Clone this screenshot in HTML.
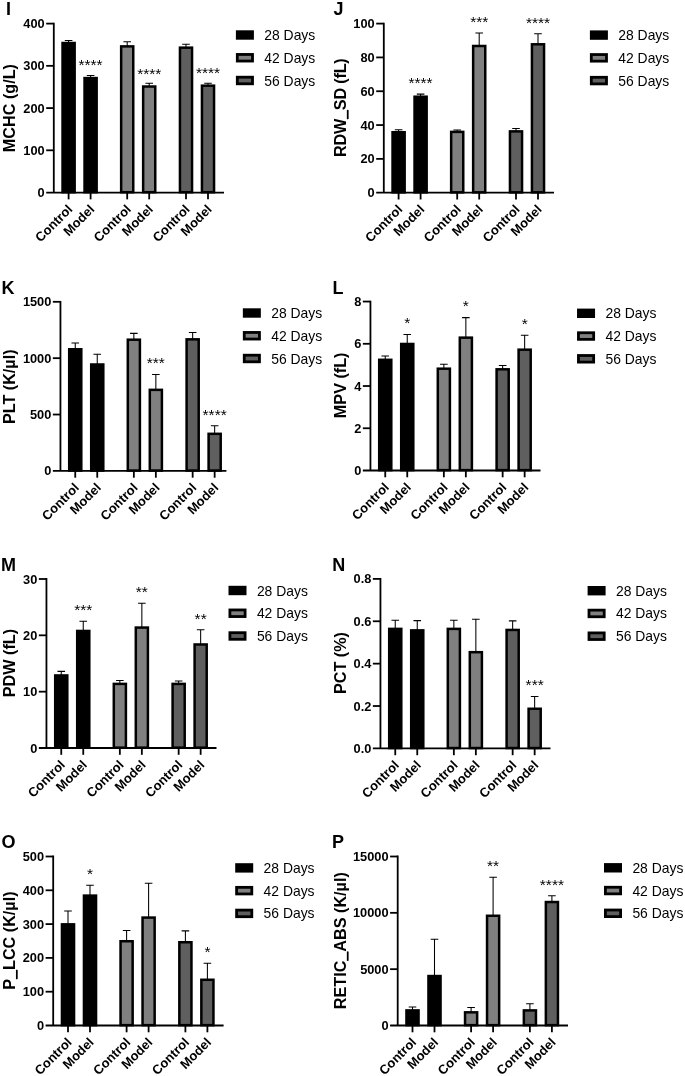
<!DOCTYPE html>
<html><head><meta charset="utf-8"><title>Figure</title>
<style>
html,body{margin:0;padding:0;background:#fff;}
svg{display:block;will-change:transform;}
text{font-family:"Liberation Sans",sans-serif;fill:#000;}
.pl{font-size:18px;font-weight:bold;}
.yt{font-size:16.2px;font-weight:bold;}
.tk{font-size:12.8px;font-weight:bold;}
.xl{font-size:13px;font-weight:bold;}
.lg{font-size:13.9px;}
.st{font-size:15.5px;}
.ax{stroke:#000;stroke-width:1.8;fill:none;}
.eb{stroke:#000;stroke-width:1.05;fill:none;}
</style></head>
<body>
<svg width="685" height="1076" viewBox="0 0 685 1076">
<rect width="685" height="1076" fill="#fff"/>
<g>
<text class="pl" x="5.9" y="15.1">I</text>
<g transform="translate(15.1,108.08) rotate(-90)"><text class="yt" text-anchor="middle">MCHC (g/L)</text>
</g>
<path class="eb" d="M68.6 42.76V40.5M64.8 40.5H72.4"/>
<rect x="62.55" y="43.01" width="12.1" height="149.19" fill="#000000" stroke="#000" stroke-width="2.5"/>
<path class="eb" d="M90.6 77.82V75.55M86.8 75.55H94.4"/>
<rect x="84.55" y="78.07" width="12.1" height="114.13" fill="#000000" stroke="#000" stroke-width="2.5"/>
<path class="eb" d="M127.2 46.14V41.76M123.4 41.76H131"/>
<rect x="121.15" y="46.39" width="12.1" height="145.81" fill="#808080" stroke="#000" stroke-width="2.5"/>
<path class="eb" d="M149.2 86.27V83.15M145.4 83.15H153"/>
<rect x="143.15" y="86.52" width="12.1" height="105.68" fill="#808080" stroke="#000" stroke-width="2.5"/>
<path class="eb" d="M186 47.41V44.3M182.2 44.3H189.8"/>
<rect x="179.95" y="47.66" width="12.1" height="144.54" fill="#5f5f5f" stroke="#000" stroke-width="2.5"/>
<path class="eb" d="M208 85.42V83.15M204.2 83.15H211.8"/>
<rect x="201.95" y="85.67" width="12.1" height="106.53" fill="#5f5f5f" stroke="#000" stroke-width="2.5"/>
<text class="st" x="90.6" y="70.06" text-anchor="middle">****</text>
<text class="st" x="149.2" y="78.76" text-anchor="middle">****</text>
<text class="st" x="208" y="77.58" text-anchor="middle">****</text>
<path class="ax" d="M53.8 22.7V193.45M46.2 192.55H224"/>
<text class="tk" x="44.7" y="197.1" text-anchor="end">0</text>
<path class="ax" d="M46.2 150.31H53.8"/>
<text class="tk" x="44.7" y="154.86" text-anchor="end">100</text>
<path class="ax" d="M46.2 108.08H53.8"/>
<text class="tk" x="44.7" y="112.62" text-anchor="end">200</text>
<path class="ax" d="M46.2 65.84H53.8"/>
<text class="tk" x="44.7" y="70.39" text-anchor="end">300</text>
<path class="ax" d="M46.2 23.6H53.8"/>
<text class="tk" x="44.7" y="28.15" text-anchor="end">400</text>
<path class="ax" d="M68.6 192.55V199.35"/>
<text class="xl" transform="translate(73.2,210.15) rotate(-45)" text-anchor="end">Control</text>
<path class="ax" d="M90.6 192.55V199.35"/>
<text class="xl" transform="translate(95.2,210.15) rotate(-45)" text-anchor="end">Model</text>
<path class="ax" d="M127.2 192.55V199.35"/>
<text class="xl" transform="translate(131.8,210.15) rotate(-45)" text-anchor="end">Control</text>
<path class="ax" d="M149.2 192.55V199.35"/>
<text class="xl" transform="translate(153.8,210.15) rotate(-45)" text-anchor="end">Model</text>
<path class="ax" d="M186 192.55V199.35"/>
<text class="xl" transform="translate(190.6,210.15) rotate(-45)" text-anchor="end">Control</text>
<path class="ax" d="M208 192.55V199.35"/>
<text class="xl" transform="translate(212.6,210.15) rotate(-45)" text-anchor="end">Model</text>
<rect x="237.3" y="31.7" width="15.2" height="6.6" fill="#000000" stroke="#000" stroke-width="2.8"/>
<text class="lg" x="264.3" y="40">28 Days</text>
<rect x="237.3" y="54.45" width="15.2" height="6.6" fill="#808080" stroke="#000" stroke-width="2.8"/>
<text class="lg" x="264.3" y="62.75">42 Days</text>
<rect x="237.3" y="77.2" width="15.2" height="6.6" fill="#5f5f5f" stroke="#000" stroke-width="2.8"/>
<text class="lg" x="264.3" y="85.5">56 Days</text>
</g>
<g>
<text class="pl" x="333.5" y="15">J</text>
<g transform="translate(346,107.75) rotate(-90)"><text class="yt" text-anchor="middle" style="letter-spacing:-0.2px">RDW_SD (fL)</text>
<rect x="-11.31" y="0.85" width="9" height="1.75" fill="#000"/>
</g>
<path class="eb" d="M398.6 131.98V129.79M394.8 129.79H402.4"/>
<rect x="392.55" y="132.23" width="12.1" height="60.12" fill="#000000" stroke="#000" stroke-width="2.5"/>
<path class="eb" d="M420.6 96.47V94.11M416.8 94.11H424.4"/>
<rect x="414.55" y="96.72" width="12.1" height="95.63" fill="#000000" stroke="#000" stroke-width="2.5"/>
<path class="eb" d="M457.2 131.64V130.05M453.4 130.05H461"/>
<rect x="451.15" y="131.89" width="12.1" height="60.46" fill="#808080" stroke="#000" stroke-width="2.5"/>
<path class="eb" d="M479.2 45.74V32.9M475.4 32.9H483"/>
<rect x="473.15" y="45.99" width="12.1" height="146.36" fill="#808080" stroke="#000" stroke-width="2.5"/>
<path class="eb" d="M516 131.13V128.44M512.2 128.44H519.8"/>
<rect x="509.95" y="131.38" width="12.1" height="60.97" fill="#5f5f5f" stroke="#000" stroke-width="2.5"/>
<path class="eb" d="M538 44.05V33.75M534.2 33.75H541.8"/>
<rect x="531.95" y="44.3" width="12.1" height="148.05" fill="#5f5f5f" stroke="#000" stroke-width="2.5"/>
<text class="st" x="420.6" y="88.2" text-anchor="middle">****</text>
<text class="st" x="479.2" y="26.98" text-anchor="middle">***</text>
<text class="st" x="538" y="28.33" text-anchor="middle">****</text>
<path class="ax" d="M383.8 22.7V193.6M376.2 192.7H554"/>
<text class="tk" x="374.7" y="197.25" text-anchor="end">0</text>
<path class="ax" d="M376.2 158.88H383.8"/>
<text class="tk" x="374.7" y="163.43" text-anchor="end">20</text>
<path class="ax" d="M376.2 125.06H383.8"/>
<text class="tk" x="374.7" y="129.61" text-anchor="end">40</text>
<path class="ax" d="M376.2 91.24H383.8"/>
<text class="tk" x="374.7" y="95.79" text-anchor="end">60</text>
<path class="ax" d="M376.2 57.42H383.8"/>
<text class="tk" x="374.7" y="61.97" text-anchor="end">80</text>
<path class="ax" d="M376.2 23.6H383.8"/>
<text class="tk" x="374.7" y="28.15" text-anchor="end">100</text>
<path class="ax" d="M398.6 192.7V199.5"/>
<text class="xl" transform="translate(403.2,210.3) rotate(-45)" text-anchor="end">Control</text>
<path class="ax" d="M420.6 192.7V199.5"/>
<text class="xl" transform="translate(425.2,210.3) rotate(-45)" text-anchor="end">Model</text>
<path class="ax" d="M457.2 192.7V199.5"/>
<text class="xl" transform="translate(461.8,210.3) rotate(-45)" text-anchor="end">Control</text>
<path class="ax" d="M479.2 192.7V199.5"/>
<text class="xl" transform="translate(483.8,210.3) rotate(-45)" text-anchor="end">Model</text>
<path class="ax" d="M516 192.7V199.5"/>
<text class="xl" transform="translate(520.6,210.3) rotate(-45)" text-anchor="end">Control</text>
<path class="ax" d="M538 192.7V199.5"/>
<text class="xl" transform="translate(542.6,210.3) rotate(-45)" text-anchor="end">Model</text>
<rect x="591.3" y="31.8" width="15.2" height="6.6" fill="#000000" stroke="#000" stroke-width="2.8"/>
<text class="lg" x="618.3" y="40.1">28 Days</text>
<rect x="591.3" y="54.55" width="15.2" height="6.6" fill="#808080" stroke="#000" stroke-width="2.8"/>
<text class="lg" x="618.3" y="62.85">42 Days</text>
<rect x="591.3" y="77.3" width="15.2" height="6.6" fill="#5f5f5f" stroke="#000" stroke-width="2.8"/>
<text class="lg" x="618.3" y="85.6">56 Days</text>
</g>
<g>
<text class="pl" x="1.6" y="294.1">K</text>
<g transform="translate(15.1,386.75) rotate(-90)"><text class="yt" text-anchor="middle">PLT (K/µl)</text>
</g>
<path class="eb" d="M75.25 349.02V342.95M71.45 342.95H79.05"/>
<rect x="69.2" y="349.27" width="12.1" height="121.28" fill="#000000" stroke="#000" stroke-width="2.5"/>
<path class="eb" d="M97.25 364.24V354.22M93.45 354.22H101.05"/>
<rect x="91.2" y="364.49" width="12.1" height="106.06" fill="#000000" stroke="#000" stroke-width="2.5"/>
<path class="eb" d="M133.85 339.44V333.37M130.05 333.37H137.65"/>
<rect x="127.8" y="339.69" width="12.1" height="130.86" fill="#808080" stroke="#000" stroke-width="2.5"/>
<path class="eb" d="M155.85 389.6V374.51M152.05 374.51H159.65"/>
<rect x="149.8" y="389.85" width="12.1" height="80.7" fill="#808080" stroke="#000" stroke-width="2.5"/>
<path class="eb" d="M192.65 339.1V332.46M188.85 332.46H196.45"/>
<rect x="186.6" y="339.35" width="12.1" height="131.2" fill="#5f5f5f" stroke="#000" stroke-width="2.5"/>
<path class="eb" d="M214.65 433.57V425.81M210.85 425.81H218.45"/>
<rect x="208.6" y="433.82" width="12.1" height="36.73" fill="#5f5f5f" stroke="#000" stroke-width="2.5"/>
<text class="st" x="155.85" y="367.68" text-anchor="middle">***</text>
<text class="st" x="214.65" y="420.1" text-anchor="middle">****</text>
<path class="ax" d="M60.45 300.9V471.8M52.85 470.9H226.4"/>
<text class="tk" x="51.35" y="475.45" text-anchor="end">0</text>
<path class="ax" d="M52.85 414.53H60.45"/>
<text class="tk" x="51.35" y="419.08" text-anchor="end">500</text>
<path class="ax" d="M52.85 358.17H60.45"/>
<text class="tk" x="51.35" y="362.72" text-anchor="end">1000</text>
<path class="ax" d="M52.85 301.8H60.45"/>
<text class="tk" x="51.35" y="306.35" text-anchor="end">1500</text>
<path class="ax" d="M75.25 470.9V477.7"/>
<text class="xl" transform="translate(79.85,488.5) rotate(-45)" text-anchor="end">Control</text>
<path class="ax" d="M97.25 470.9V477.7"/>
<text class="xl" transform="translate(101.85,488.5) rotate(-45)" text-anchor="end">Model</text>
<path class="ax" d="M133.85 470.9V477.7"/>
<text class="xl" transform="translate(138.45,488.5) rotate(-45)" text-anchor="end">Control</text>
<path class="ax" d="M155.85 470.9V477.7"/>
<text class="xl" transform="translate(160.45,488.5) rotate(-45)" text-anchor="end">Model</text>
<path class="ax" d="M192.65 470.9V477.7"/>
<text class="xl" transform="translate(197.25,488.5) rotate(-45)" text-anchor="end">Control</text>
<path class="ax" d="M214.65 470.9V477.7"/>
<text class="xl" transform="translate(219.25,488.5) rotate(-45)" text-anchor="end">Model</text>
<rect x="244.25" y="309.7" width="15.2" height="6.6" fill="#000000" stroke="#000" stroke-width="2.8"/>
<text class="lg" x="271.25" y="318">28 Days</text>
<rect x="244.25" y="332.45" width="15.2" height="6.6" fill="#808080" stroke="#000" stroke-width="2.8"/>
<text class="lg" x="271.25" y="340.75">42 Days</text>
<rect x="244.25" y="355.2" width="15.2" height="6.6" fill="#5f5f5f" stroke="#000" stroke-width="2.8"/>
<text class="lg" x="271.25" y="363.5">56 Days</text>
</g>
<g>
<text class="pl" x="332.4" y="294.1">L</text>
<g transform="translate(346,385.32) rotate(-90)"><text class="yt" text-anchor="middle">MPV (fL)</text>
</g>
<path class="eb" d="M385.25 359.57V356.04M381.45 356.04H389.05"/>
<rect x="379.2" y="359.82" width="12.1" height="110.33" fill="#000000" stroke="#000" stroke-width="2.5"/>
<path class="eb" d="M407.25 343.73V334.5M403.45 334.5H411.05"/>
<rect x="401.2" y="343.98" width="12.1" height="126.17" fill="#000000" stroke="#000" stroke-width="2.5"/>
<path class="eb" d="M443.85 368.44V364.27M440.05 364.27H447.65"/>
<rect x="437.8" y="368.69" width="12.1" height="101.46" fill="#808080" stroke="#000" stroke-width="2.5"/>
<path class="eb" d="M465.85 337.4V317.6M462.05 317.6H469.65"/>
<rect x="459.8" y="337.65" width="12.1" height="132.5" fill="#808080" stroke="#000" stroke-width="2.5"/>
<path class="eb" d="M502.65 369.07V365.54M498.85 365.54H506.45"/>
<rect x="496.6" y="369.32" width="12.1" height="100.83" fill="#5f5f5f" stroke="#000" stroke-width="2.5"/>
<path class="eb" d="M524.65 349.43V335.34M520.85 335.34H528.45"/>
<rect x="518.6" y="349.68" width="12.1" height="120.47" fill="#5f5f5f" stroke="#000" stroke-width="2.5"/>
<text class="st" x="407.25" y="327.95" text-anchor="middle">*</text>
<text class="st" x="465.85" y="311.05" text-anchor="middle">*</text>
<text class="st" x="524.65" y="329" text-anchor="middle">*</text>
<path class="ax" d="M370.45 300.65V471.4M362.85 470.5H540.5"/>
<text class="tk" x="361.35" y="475.05" text-anchor="end">0</text>
<path class="ax" d="M362.85 428.26H370.45"/>
<text class="tk" x="361.35" y="432.81" text-anchor="end">2</text>
<path class="ax" d="M362.85 386.02H370.45"/>
<text class="tk" x="361.35" y="390.57" text-anchor="end">4</text>
<path class="ax" d="M362.85 343.79H370.45"/>
<text class="tk" x="361.35" y="348.34" text-anchor="end">6</text>
<path class="ax" d="M362.85 301.55H370.45"/>
<text class="tk" x="361.35" y="306.1" text-anchor="end">8</text>
<path class="ax" d="M385.25 470.5V477.3"/>
<text class="xl" transform="translate(389.85,488.1) rotate(-45)" text-anchor="end">Control</text>
<path class="ax" d="M407.25 470.5V477.3"/>
<text class="xl" transform="translate(411.85,488.1) rotate(-45)" text-anchor="end">Model</text>
<path class="ax" d="M443.85 470.5V477.3"/>
<text class="xl" transform="translate(448.45,488.1) rotate(-45)" text-anchor="end">Control</text>
<path class="ax" d="M465.85 470.5V477.3"/>
<text class="xl" transform="translate(470.45,488.1) rotate(-45)" text-anchor="end">Model</text>
<path class="ax" d="M502.65 470.5V477.3"/>
<text class="xl" transform="translate(507.25,488.1) rotate(-45)" text-anchor="end">Control</text>
<path class="ax" d="M524.65 470.5V477.3"/>
<text class="xl" transform="translate(529.25,488.1) rotate(-45)" text-anchor="end">Model</text>
<rect x="578.45" y="310" width="15.2" height="6.6" fill="#000000" stroke="#000" stroke-width="2.8"/>
<text class="lg" x="605.45" y="318.3">28 Days</text>
<rect x="578.45" y="332.75" width="15.2" height="6.6" fill="#808080" stroke="#000" stroke-width="2.8"/>
<text class="lg" x="605.45" y="341.05">42 Days</text>
<rect x="578.45" y="355.5" width="15.2" height="6.6" fill="#5f5f5f" stroke="#000" stroke-width="2.8"/>
<text class="lg" x="605.45" y="363.8">56 Days</text>
</g>
<g>
<text class="pl" x="1.1" y="571">M</text>
<g transform="translate(15.1,663.1) rotate(-90)"><text class="yt" text-anchor="middle">PDW (fL)</text>
</g>
<path class="eb" d="M61.25 675.2V671.39M57.45 671.39H65.05"/>
<rect x="55.2" y="675.45" width="12.1" height="72.2" fill="#000000" stroke="#000" stroke-width="2.5"/>
<path class="eb" d="M83.25 630.7V621.25M79.45 621.25H87.05"/>
<rect x="77.2" y="630.95" width="12.1" height="116.7" fill="#000000" stroke="#000" stroke-width="2.5"/>
<path class="eb" d="M119.85 683.65V680.4M116.05 680.4H123.65"/>
<rect x="113.8" y="683.9" width="12.1" height="63.75" fill="#808080" stroke="#000" stroke-width="2.5"/>
<path class="eb" d="M141.85 627.32V603.22M138.05 603.22H145.65"/>
<rect x="135.8" y="627.57" width="12.1" height="120.08" fill="#808080" stroke="#000" stroke-width="2.5"/>
<path class="eb" d="M178.65 683.65V680.96M174.85 680.96H182.45"/>
<rect x="172.6" y="683.9" width="12.1" height="63.75" fill="#5f5f5f" stroke="#000" stroke-width="2.5"/>
<path class="eb" d="M200.65 644.22V629.7M196.85 629.7H204.45"/>
<rect x="194.6" y="644.47" width="12.1" height="103.18" fill="#5f5f5f" stroke="#000" stroke-width="2.5"/>
<text class="st" x="83.25" y="615.22" text-anchor="middle">***</text>
<text class="st" x="141.85" y="597.42" text-anchor="middle">**</text>
<text class="st" x="200.65" y="623.5" text-anchor="middle">**</text>
<path class="ax" d="M46.45 578.1V748.9M38.85 748H216.5"/>
<text class="tk" x="37.35" y="752.55" text-anchor="end">0</text>
<path class="ax" d="M38.85 691.67H46.45"/>
<text class="tk" x="37.35" y="696.22" text-anchor="end">10</text>
<path class="ax" d="M38.85 635.33H46.45"/>
<text class="tk" x="37.35" y="639.88" text-anchor="end">20</text>
<path class="ax" d="M38.85 579H46.45"/>
<text class="tk" x="37.35" y="583.55" text-anchor="end">30</text>
<path class="ax" d="M61.25 748V754.8"/>
<text class="xl" transform="translate(65.85,765.6) rotate(-45)" text-anchor="end">Control</text>
<path class="ax" d="M83.25 748V754.8"/>
<text class="xl" transform="translate(87.85,765.6) rotate(-45)" text-anchor="end">Model</text>
<path class="ax" d="M119.85 748V754.8"/>
<text class="xl" transform="translate(124.45,765.6) rotate(-45)" text-anchor="end">Control</text>
<path class="ax" d="M141.85 748V754.8"/>
<text class="xl" transform="translate(146.45,765.6) rotate(-45)" text-anchor="end">Model</text>
<path class="ax" d="M178.65 748V754.8"/>
<text class="xl" transform="translate(183.25,765.6) rotate(-45)" text-anchor="end">Control</text>
<path class="ax" d="M200.65 748V754.8"/>
<text class="xl" transform="translate(205.25,765.6) rotate(-45)" text-anchor="end">Model</text>
<rect x="229.9" y="587.2" width="15.2" height="6.6" fill="#000000" stroke="#000" stroke-width="2.8"/>
<text class="lg" x="256.9" y="595.5">28 Days</text>
<rect x="229.9" y="609.95" width="15.2" height="6.6" fill="#808080" stroke="#000" stroke-width="2.8"/>
<text class="lg" x="256.9" y="618.25">42 Days</text>
<rect x="229.9" y="632.7" width="15.2" height="6.6" fill="#5f5f5f" stroke="#000" stroke-width="2.8"/>
<text class="lg" x="256.9" y="641">56 Days</text>
</g>
<g>
<text class="pl" x="332.3" y="570.6">N</text>
<g transform="translate(346,663.05) rotate(-90)"><text class="yt" text-anchor="middle">PCT (%)</text>
</g>
<path class="eb" d="M395.25 628.63V620.22M391.45 620.22H399.05"/>
<rect x="389.2" y="628.88" width="12.1" height="119.17" fill="#000000" stroke="#000" stroke-width="2.5"/>
<path class="eb" d="M417.25 630.11V620.64M413.45 620.64H421.05"/>
<rect x="411.2" y="630.36" width="12.1" height="117.69" fill="#000000" stroke="#000" stroke-width="2.5"/>
<path class="eb" d="M453.85 628.63V620.22M450.05 620.22H457.65"/>
<rect x="447.8" y="628.88" width="12.1" height="119.17" fill="#808080" stroke="#000" stroke-width="2.5"/>
<path class="eb" d="M475.85 651.94V619.16M472.05 619.16H479.65"/>
<rect x="469.8" y="652.19" width="12.1" height="95.86" fill="#808080" stroke="#000" stroke-width="2.5"/>
<path class="eb" d="M512.65 629.69V620.85M508.85 620.85H516.45"/>
<rect x="506.6" y="629.94" width="12.1" height="118.11" fill="#5f5f5f" stroke="#000" stroke-width="2.5"/>
<path class="eb" d="M534.65 708.51V696.49M530.85 696.49H538.45"/>
<rect x="528.6" y="708.76" width="12.1" height="39.29" fill="#5f5f5f" stroke="#000" stroke-width="2.5"/>
<text class="st" x="534.65" y="690.13" text-anchor="middle">***</text>
<path class="ax" d="M380.45 578V749.3M372.85 748.4H550.5"/>
<text class="tk" x="371.35" y="752.95" text-anchor="end">0.0</text>
<path class="ax" d="M372.85 706.02H380.45"/>
<text class="tk" x="371.35" y="710.57" text-anchor="end">0.2</text>
<path class="ax" d="M372.85 663.65H380.45"/>
<text class="tk" x="371.35" y="668.2" text-anchor="end">0.4</text>
<path class="ax" d="M372.85 621.27H380.45"/>
<text class="tk" x="371.35" y="625.82" text-anchor="end">0.6</text>
<path class="ax" d="M372.85 578.9H380.45"/>
<text class="tk" x="371.35" y="583.45" text-anchor="end">0.8</text>
<path class="ax" d="M395.25 748.4V755.2"/>
<text class="xl" transform="translate(399.85,766) rotate(-45)" text-anchor="end">Control</text>
<path class="ax" d="M417.25 748.4V755.2"/>
<text class="xl" transform="translate(421.85,766) rotate(-45)" text-anchor="end">Model</text>
<path class="ax" d="M453.85 748.4V755.2"/>
<text class="xl" transform="translate(458.45,766) rotate(-45)" text-anchor="end">Control</text>
<path class="ax" d="M475.85 748.4V755.2"/>
<text class="xl" transform="translate(480.45,766) rotate(-45)" text-anchor="end">Model</text>
<path class="ax" d="M512.65 748.4V755.2"/>
<text class="xl" transform="translate(517.25,766) rotate(-45)" text-anchor="end">Control</text>
<path class="ax" d="M534.65 748.4V755.2"/>
<text class="xl" transform="translate(539.25,766) rotate(-45)" text-anchor="end">Model</text>
<rect x="589" y="587.4" width="15.2" height="6.6" fill="#000000" stroke="#000" stroke-width="2.8"/>
<text class="lg" x="616" y="595.7">28 Days</text>
<rect x="589" y="610.15" width="15.2" height="6.6" fill="#808080" stroke="#000" stroke-width="2.8"/>
<text class="lg" x="616" y="618.45">42 Days</text>
<rect x="589" y="632.9" width="15.2" height="6.6" fill="#5f5f5f" stroke="#000" stroke-width="2.8"/>
<text class="lg" x="616" y="641.2">56 Days</text>
</g>
<g>
<text class="pl" x="1.5" y="848.2">O</text>
<g transform="translate(15.1,940.6) rotate(-90)"><text class="yt" text-anchor="middle">P_LCC (K/µl)</text>
<rect x="-38.48" y="0.85" width="9.2" height="1.75" fill="#000"/>
</g>
<path class="eb" d="M68 924.09V910.92M64.2 910.92H71.8"/>
<rect x="61.95" y="924.34" width="12.1" height="100.81" fill="#000000" stroke="#000" stroke-width="2.5"/>
<path class="eb" d="M90 895.36V885.23M86.2 885.23H93.8"/>
<rect x="83.95" y="895.61" width="12.1" height="129.54" fill="#000000" stroke="#000" stroke-width="2.5"/>
<path class="eb" d="M126.6 940.99V930.52M122.8 930.52H130.4"/>
<rect x="120.55" y="941.24" width="12.1" height="83.91" fill="#808080" stroke="#000" stroke-width="2.5"/>
<path class="eb" d="M148.6 917.33V883.2M144.8 883.2H152.4"/>
<rect x="142.55" y="917.58" width="12.1" height="107.57" fill="#808080" stroke="#000" stroke-width="2.5"/>
<path class="eb" d="M185.4 942V930.86M181.6 930.86H189.2"/>
<rect x="179.35" y="942.25" width="12.1" height="82.9" fill="#5f5f5f" stroke="#000" stroke-width="2.5"/>
<path class="eb" d="M207.4 979.52V963.31M203.6 963.31H211.2"/>
<rect x="201.35" y="979.77" width="12.1" height="45.38" fill="#5f5f5f" stroke="#000" stroke-width="2.5"/>
<text class="st" x="90" y="878.81" text-anchor="middle">*</text>
<text class="st" x="207.4" y="957.22" text-anchor="middle">*</text>
<path class="ax" d="M53.2 855.6V1026.4M45.6 1025.5H223.6"/>
<text class="tk" x="44.1" y="1030.05" text-anchor="end">0</text>
<path class="ax" d="M45.6 991.7H53.2"/>
<text class="tk" x="44.1" y="996.25" text-anchor="end">100</text>
<path class="ax" d="M45.6 957.9H53.2"/>
<text class="tk" x="44.1" y="962.45" text-anchor="end">200</text>
<path class="ax" d="M45.6 924.1H53.2"/>
<text class="tk" x="44.1" y="928.65" text-anchor="end">300</text>
<path class="ax" d="M45.6 890.3H53.2"/>
<text class="tk" x="44.1" y="894.85" text-anchor="end">400</text>
<path class="ax" d="M45.6 856.5H53.2"/>
<text class="tk" x="44.1" y="861.05" text-anchor="end">500</text>
<path class="ax" d="M68 1025.5V1032.3"/>
<text class="xl" transform="translate(72.6,1043.1) rotate(-45)" text-anchor="end">Control</text>
<path class="ax" d="M90 1025.5V1032.3"/>
<text class="xl" transform="translate(94.6,1043.1) rotate(-45)" text-anchor="end">Model</text>
<path class="ax" d="M126.6 1025.5V1032.3"/>
<text class="xl" transform="translate(131.2,1043.1) rotate(-45)" text-anchor="end">Control</text>
<path class="ax" d="M148.6 1025.5V1032.3"/>
<text class="xl" transform="translate(153.2,1043.1) rotate(-45)" text-anchor="end">Model</text>
<path class="ax" d="M185.4 1025.5V1032.3"/>
<text class="xl" transform="translate(190,1043.1) rotate(-45)" text-anchor="end">Control</text>
<path class="ax" d="M207.4 1025.5V1032.3"/>
<text class="xl" transform="translate(212,1043.1) rotate(-45)" text-anchor="end">Model</text>
<rect x="236.6" y="864.6" width="15.2" height="6.6" fill="#000000" stroke="#000" stroke-width="2.8"/>
<text class="lg" x="263.6" y="872.9">28 Days</text>
<rect x="236.6" y="887.35" width="15.2" height="6.6" fill="#808080" stroke="#000" stroke-width="2.8"/>
<text class="lg" x="263.6" y="895.65">42 Days</text>
<rect x="236.6" y="910.1" width="15.2" height="6.6" fill="#5f5f5f" stroke="#000" stroke-width="2.8"/>
<text class="lg" x="263.6" y="918.4">56 Days</text>
</g>
<g>
<text class="pl" x="332" y="848.3">P</text>
<g transform="translate(346,940.7) rotate(-90)"><text class="yt" text-anchor="middle">RETIC_ABS (K/µl)</text>
<rect x="-20.06" y="0.85" width="9.2" height="1.75" fill="#000"/>
</g>
<path class="eb" d="M412.5 1010.16V1006.91M408.7 1006.91H416.3"/>
<rect x="406.45" y="1010.41" width="12.1" height="14.74" fill="#000000" stroke="#000" stroke-width="2.5"/>
<path class="eb" d="M434.5 975.8V939.31M430.7 939.31H438.3"/>
<rect x="428.45" y="976.05" width="12.1" height="49.1" fill="#000000" stroke="#000" stroke-width="2.5"/>
<path class="eb" d="M471.1 1012.08V1007.47M467.3 1007.47H474.9"/>
<rect x="465.05" y="1012.33" width="12.1" height="12.82" fill="#808080" stroke="#000" stroke-width="2.5"/>
<path class="eb" d="M493.1 915.52V877.34M489.3 877.34H496.9"/>
<rect x="487.05" y="915.77" width="12.1" height="109.38" fill="#808080" stroke="#000" stroke-width="2.5"/>
<path class="eb" d="M529.9 1010.16V1003.76M526.1 1003.76H533.7"/>
<rect x="523.85" y="1010.41" width="12.1" height="14.74" fill="#5f5f5f" stroke="#000" stroke-width="2.5"/>
<path class="eb" d="M551.9 901.78V895.65M548.1 895.65H555.7"/>
<rect x="545.85" y="902.03" width="12.1" height="123.12" fill="#5f5f5f" stroke="#000" stroke-width="2.5"/>
<text class="st" x="493.1" y="870.81" text-anchor="middle">**</text>
<text class="st" x="551.9" y="889.68" text-anchor="middle">****</text>
<path class="ax" d="M397.7 855.6V1026.4M390.1 1025.5H568"/>
<text class="tk" x="388.6" y="1030.05" text-anchor="end">0</text>
<path class="ax" d="M390.1 969.17H397.7"/>
<text class="tk" x="388.6" y="973.72" text-anchor="end">5000</text>
<path class="ax" d="M390.1 912.83H397.7"/>
<text class="tk" x="388.6" y="917.38" text-anchor="end">10000</text>
<path class="ax" d="M390.1 856.5H397.7"/>
<text class="tk" x="388.6" y="861.05" text-anchor="end">15000</text>
<path class="ax" d="M412.5 1025.5V1032.3"/>
<text class="xl" transform="translate(417.1,1043.1) rotate(-45)" text-anchor="end">Control</text>
<path class="ax" d="M434.5 1025.5V1032.3"/>
<text class="xl" transform="translate(439.1,1043.1) rotate(-45)" text-anchor="end">Model</text>
<path class="ax" d="M471.1 1025.5V1032.3"/>
<text class="xl" transform="translate(475.7,1043.1) rotate(-45)" text-anchor="end">Control</text>
<path class="ax" d="M493.1 1025.5V1032.3"/>
<text class="xl" transform="translate(497.7,1043.1) rotate(-45)" text-anchor="end">Model</text>
<path class="ax" d="M529.9 1025.5V1032.3"/>
<text class="xl" transform="translate(534.5,1043.1) rotate(-45)" text-anchor="end">Control</text>
<path class="ax" d="M551.9 1025.5V1032.3"/>
<text class="xl" transform="translate(556.5,1043.1) rotate(-45)" text-anchor="end">Model</text>
<rect x="605.4" y="864.5" width="15.2" height="6.6" fill="#000000" stroke="#000" stroke-width="2.8"/>
<text class="lg" x="632.4" y="872.8">28 Days</text>
<rect x="605.4" y="887.25" width="15.2" height="6.6" fill="#808080" stroke="#000" stroke-width="2.8"/>
<text class="lg" x="632.4" y="895.55">42 Days</text>
<rect x="605.4" y="910" width="15.2" height="6.6" fill="#5f5f5f" stroke="#000" stroke-width="2.8"/>
<text class="lg" x="632.4" y="918.3">56 Days</text>
</g>
</svg>
</body></html>
